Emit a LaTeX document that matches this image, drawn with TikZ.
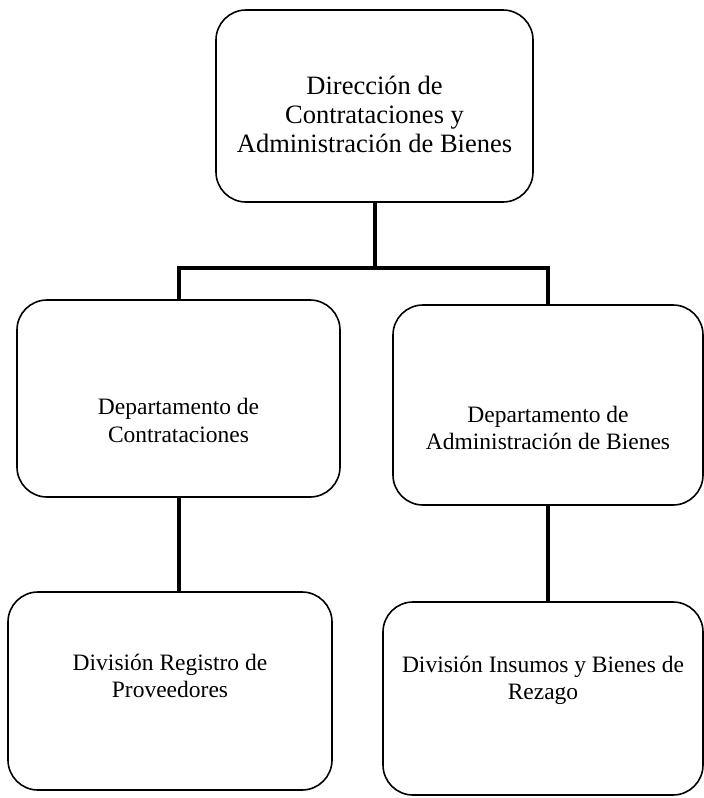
\documentclass[tikz,border=0pt]{standalone}
\usepackage{fontspec}
\setmainfont{Liberation Serif}
\usetikzlibrary{calc}
\begin{document}
\begin{tikzpicture}[x=1pt,y=-1pt,
  orgbox/.style={draw, line width=1.6pt, rounded corners=30pt, inner sep=0pt},
  toptxt/.style={align=center, font=\fontsize{26.5}{29}\selectfont, inner sep=0pt},
  subtxt/.style={align=center, font=\fontsize{23.5}{27.5}\selectfont, inner sep=0pt},
  link/.style={line width=4pt}]
\useasboundingbox (0,0) rectangle (704,798);
% boxes
\node[orgbox, minimum width=317pt, minimum height=192pt] (dir) at (374.5,106) {};
\node[orgbox, minimum width=323pt, minimum height=197pt] (dcon) at (178.5,398.5) {};
\node[orgbox, minimum width=310pt, minimum height=200pt] (dadm) at (548,405) {};
\node[orgbox, minimum width=324pt, minimum height=198pt] (drp) at (170,691) {};
\node[orgbox, minimum width=320pt, minimum height=193pt] (dib) at (543,698.5) {};
% texts
\node[toptxt] (tdir) at ($(dir.center)+(0,8)$) {Dirección de\\Contrataciones y\\Administración de Bienes};
\node[subtxt] (tdcon) at ($(dcon.center)+(0,22)$) {Departamento de\\Contrataciones};
\node[subtxt] (tdadm) at ($(dadm.center)+(0,23)$) {Departamento de\\Administración de Bienes};
\node[subtxt] (tdrp) at ($(drp.center)+(0,-15)$) {División Registro de\\Proveedores};
\node[subtxt] (tdib) at ($(dib.center)+(0,-18)$) {División Insumos y Bienes de\\Rezago};
% connectors
\coordinate (bus) at (374.5,268);
\draw[link] (dir.south) -- (bus);
\draw[link, line join=miter] (dcon.north) |- (bus) -| (dadm.north);
\draw[link] (dcon.south) -- (dcon.south |- drp.north);
\draw[link] (dadm.south) -- (dadm.south |- dib.north);
\end{tikzpicture}
\end{document}
